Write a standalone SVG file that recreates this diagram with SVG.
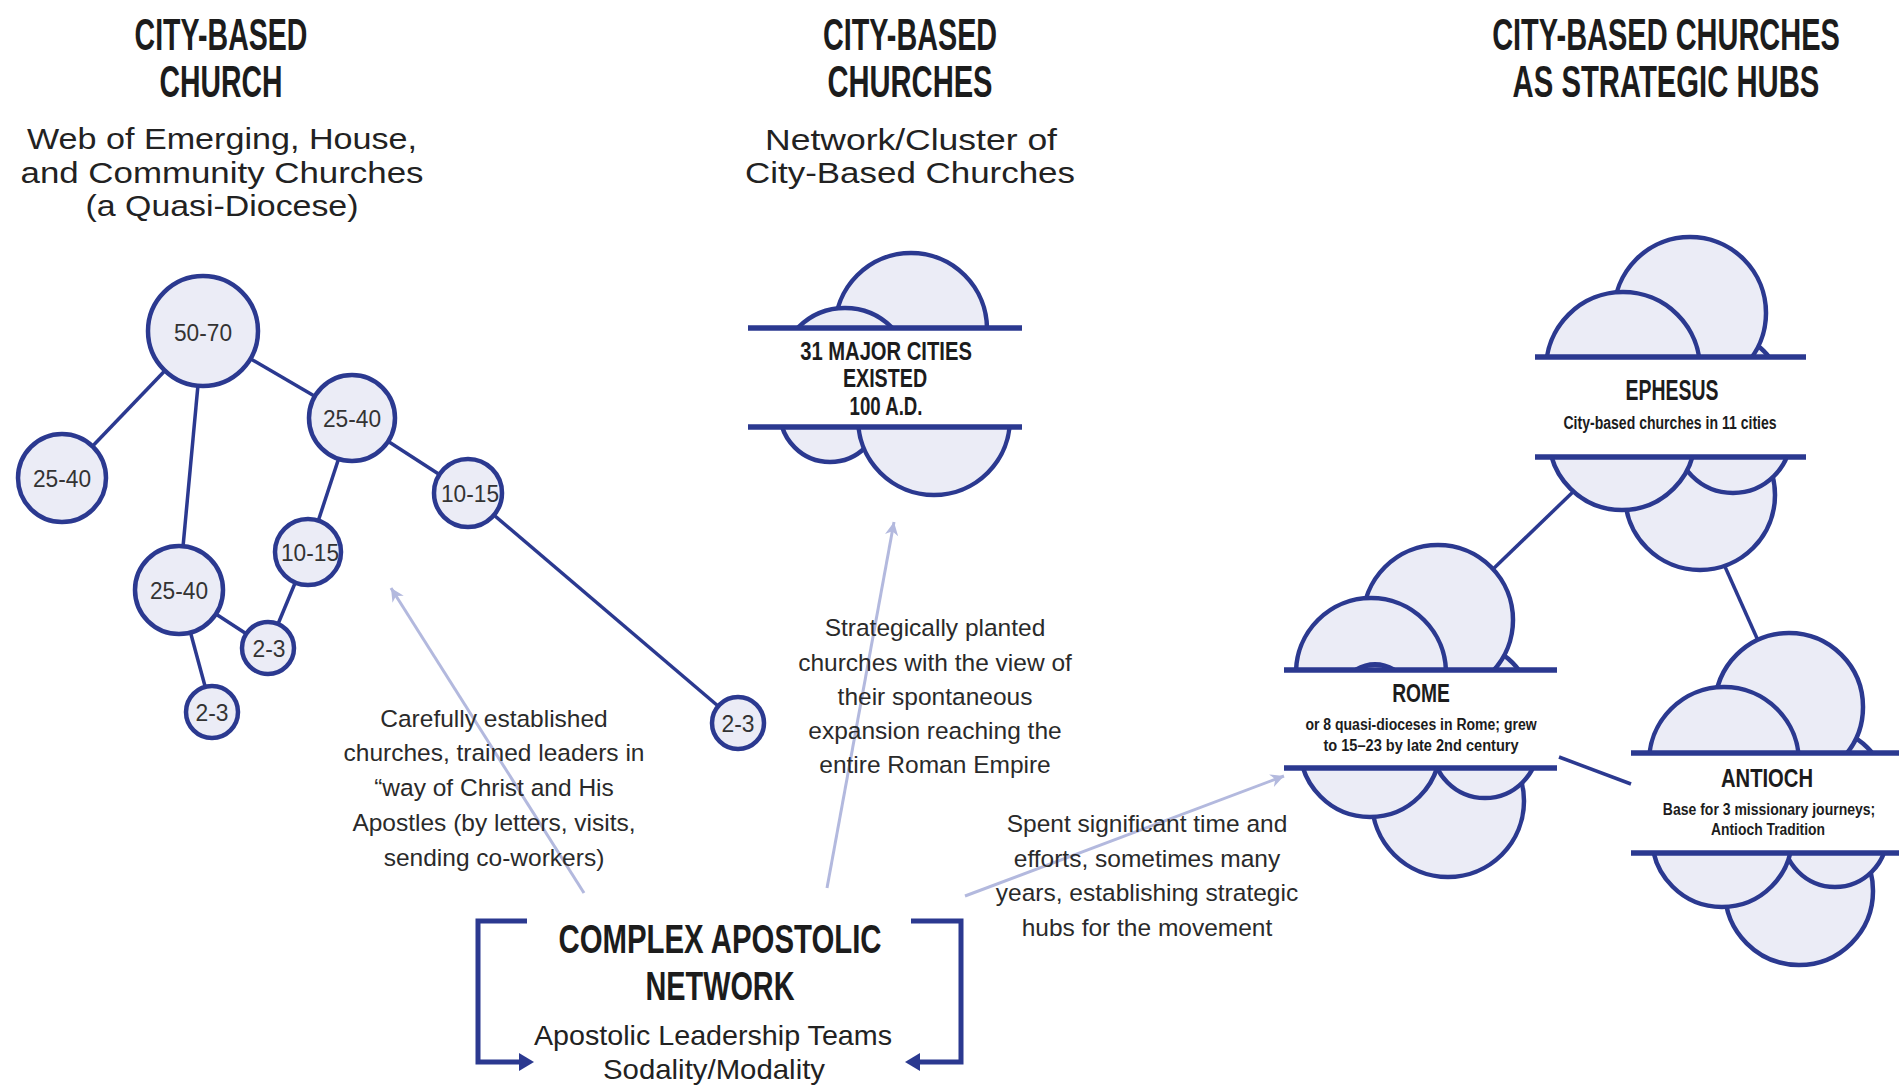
<svg xmlns="http://www.w3.org/2000/svg" width="1899" height="1085" viewBox="0 0 1899 1085">
<style>
.hd{font-family:"Liberation Sans",Arial,sans-serif;font-weight:bold;fill:#1c1c1c;text-anchor:middle}
.sub{font-family:"Liberation Sans",Arial,sans-serif;fill:#222;text-anchor:middle;font-size:30px}
.ann{font-family:"Liberation Sans",Arial,sans-serif;fill:#2a2a2a;text-anchor:middle;font-size:24.5px}
.nl{font-family:"Liberation Sans",Arial,sans-serif;fill:#333;text-anchor:middle;font-size:23px}
.cl{font-family:"Liberation Sans",Arial,sans-serif;font-weight:bold;fill:#1c1c1c;text-anchor:middle}
.nd{fill:#ebecf6;stroke:#2b3990;stroke-width:4.5}
.cc{fill:#ebecf6;stroke:#2b3990;stroke-width:4.5}
.edge{stroke:#2b3990;stroke-width:3.5;fill:none}
.band{stroke:#2b3990;stroke-width:5.5}
.arr{stroke:#b3b9de;stroke-width:3;fill:none}
.brk{stroke:#2b3990;stroke-width:5;fill:none}
</style>
<defs>
<marker id="ah" viewBox="0 0 12 12" refX="11" refY="6" markerWidth="16" markerHeight="16" markerUnits="userSpaceOnUse" orient="auto">
<path d="M1,1 L11,6 L1,11 L4,6 z" fill="#b3b9de"/>
</marker>
<clipPath id="mT"><rect x="700" y="200" width="360" height="128"/></clipPath>
<clipPath id="mB"><rect x="700" y="427" width="360" height="120"/></clipPath>
<clipPath id="eT"><rect x="1500" y="200" width="340" height="157"/></clipPath>
<clipPath id="eB"><rect x="1500" y="457" width="340" height="140"/></clipPath>
<clipPath id="rT"><rect x="1260" y="500" width="320" height="170"/></clipPath>
<clipPath id="rB"><rect x="1260" y="768" width="320" height="140"/></clipPath>
<clipPath id="aT"><rect x="1600" y="600" width="299" height="153"/></clipPath>
<clipPath id="aB"><rect x="1600" y="853" width="299" height="140"/></clipPath>
</defs>
<rect width="1899" height="1085" fill="#ffffff"/>

<g id="headings">
<text class="hd" transform="translate(221,50) scale(0.65,1)" font-size="44" textLength="266" lengthAdjust="spacingAndGlyphs">CITY-BASED</text>
<text class="hd" transform="translate(221,97) scale(0.65,1)" font-size="44" textLength="189" lengthAdjust="spacingAndGlyphs">CHURCH</text>
<text class="sub" x="222" y="149" textLength="390" lengthAdjust="spacingAndGlyphs">Web of Emerging, House,</text>
<text class="sub" x="222" y="183" textLength="403" lengthAdjust="spacingAndGlyphs">and Community Churches</text>
<text class="sub" x="222" y="216" textLength="273" lengthAdjust="spacingAndGlyphs">(a Quasi-Diocese)</text>

<text class="hd" transform="translate(910,50) scale(0.65,1)" font-size="44" textLength="268" lengthAdjust="spacingAndGlyphs">CITY-BASED</text>
<text class="hd" transform="translate(910,97) scale(0.65,1)" font-size="44" textLength="254" lengthAdjust="spacingAndGlyphs">CHURCHES</text>
<text class="sub" x="911" y="150" textLength="292" lengthAdjust="spacingAndGlyphs">Network/Cluster of</text>
<text class="sub" x="910" y="183" textLength="330" lengthAdjust="spacingAndGlyphs">City-Based Churches</text>

<text class="hd" transform="translate(1666,50) scale(0.65,1)" font-size="44" textLength="535" lengthAdjust="spacingAndGlyphs">CITY-BASED CHURCHES</text>
<text class="hd" transform="translate(1666,97) scale(0.65,1)" font-size="44" textLength="472" lengthAdjust="spacingAndGlyphs">AS STRATEGIC HUBS</text>
</g>

<g id="connectors">
<line class="edge" x1="203" y1="331" x2="62" y2="478"/>
<line class="edge" x1="203" y1="331" x2="179" y2="590"/>
<line class="edge" x1="203" y1="331" x2="352" y2="418"/>
<line class="edge" x1="352" y1="418" x2="308" y2="552"/>
<line class="edge" x1="352" y1="418" x2="468" y2="493"/>
<line class="edge" x1="468" y1="493" x2="738" y2="723"/>
<line class="edge" x1="308" y1="552" x2="268" y2="648"/>
<line class="edge" x1="179" y1="590" x2="268" y2="648"/>
<line class="edge" x1="179" y1="590" x2="212" y2="712"/>
<line class="edge" x1="1575" y1="490" x2="1490" y2="572"/>
<line class="edge" x1="1722" y1="560" x2="1760" y2="645"/>
<line class="edge" x1="1559" y1="757" x2="1631" y2="784"/>
<line class="arr" x1="584" y1="893" x2="391" y2="588" marker-end="url(#ah)"/>
<line class="arr" x1="827" y1="888" x2="894" y2="522" marker-end="url(#ah)"/>
<line class="arr" x1="965" y1="896" x2="1284" y2="776" marker-end="url(#ah)"/>
</g>

<g id="n-50-70"><circle class="nd" cx="203" cy="331" r="55"/><text class="nl" x="203" y="341" textLength="58" lengthAdjust="spacingAndGlyphs">50-70</text></g>
<g id="n-25-40-a"><circle class="nd" cx="352" cy="418" r="43"/><text class="nl" x="352" y="427" textLength="58" lengthAdjust="spacingAndGlyphs">25-40</text></g>
<g id="n-25-40-b"><circle class="nd" cx="62" cy="478" r="44"/><text class="nl" x="62" y="487" textLength="58" lengthAdjust="spacingAndGlyphs">25-40</text></g>
<g id="n-10-15-a"><circle class="nd" cx="468" cy="493" r="34"/><text class="nl" x="470" y="502" textLength="58" lengthAdjust="spacingAndGlyphs">10-15</text></g>
<g id="n-10-15-b"><circle class="nd" cx="308" cy="552" r="33"/><text class="nl" x="310" y="561" textLength="58" lengthAdjust="spacingAndGlyphs">10-15</text></g>
<g id="n-25-40-c"><circle class="nd" cx="179" cy="590" r="44"/><text class="nl" x="179" y="599" textLength="58" lengthAdjust="spacingAndGlyphs">25-40</text></g>
<g id="n-2-3-a"><circle class="nd" cx="268" cy="648" r="26"/><text class="nl" x="269" y="657" textLength="33" lengthAdjust="spacingAndGlyphs">2-3</text></g>
<g id="n-2-3-b"><circle class="nd" cx="212" cy="712" r="26"/><text class="nl" x="212" y="721" textLength="33" lengthAdjust="spacingAndGlyphs">2-3</text></g>
<g id="n-2-3-c"><circle class="nd" cx="738" cy="723" r="26"/><text class="nl" x="738" y="732" textLength="33" lengthAdjust="spacingAndGlyphs">2-3</text></g>

<g id="cluster-31">
<g clip-path="url(#mT)">
<circle class="cc" cx="911" cy="329" r="76"/>
<circle class="cc" cx="845" cy="374" r="66"/>
</g>
<g clip-path="url(#mB)">
<circle class="cc" cx="830" cy="412" r="50"/>
<circle class="cc" cx="934" cy="419" r="76"/>
</g>
<line class="band" x1="748" y1="328" x2="1022" y2="328"/>
<line class="band" x1="748" y1="427" x2="1022" y2="427"/>
<text class="cl" transform="translate(886,360) scale(0.81,1)" font-size="25" textLength="212" lengthAdjust="spacingAndGlyphs">31 MAJOR CITIES</text>
<text class="cl" transform="translate(885,387) scale(0.81,1)" font-size="25" textLength="104" lengthAdjust="spacingAndGlyphs">EXISTED</text>
<text class="cl" transform="translate(886,415) scale(0.81,1)" font-size="25" textLength="90" lengthAdjust="spacingAndGlyphs">100 A.D.</text>
</g>

<g id="ephesus">
<g clip-path="url(#eT)">
<circle class="cc" cx="1725" cy="390" r="55"/>
<circle class="cc" cx="1690" cy="313" r="76"/>
<circle class="cc" cx="1623" cy="369" r="77"/>
</g>
<g clip-path="url(#eB)">
<circle class="cc" cx="1700" cy="495" r="75"/>
<circle class="cc" cx="1733" cy="435" r="58"/>
<circle class="cc" cx="1622" cy="437" r="73"/>
</g>
<line class="band" x1="1535" y1="357" x2="1806" y2="357"/>
<line class="band" x1="1535" y1="457" x2="1806" y2="457"/>
<text class="cl" transform="translate(1672,400) scale(0.65,1)" font-size="30" textLength="143" lengthAdjust="spacingAndGlyphs">EPHESUS</text>
<text class="cl" transform="translate(1670,429) scale(0.82,1)" font-size="17.5" textLength="260" lengthAdjust="spacingAndGlyphs">City-based churches in 11 cities</text>
</g>

<g id="rome">
<g clip-path="url(#rT)">
<circle class="cc" cx="1470" cy="705" r="60"/>
<circle class="cc" cx="1438" cy="620" r="75"/>
<circle class="cc" cx="1371" cy="673" r="75"/>
<path d="M1356,670 Q1375,659 1394,670" stroke="#2b3990" stroke-width="5" fill="none"/>
</g>
<g clip-path="url(#rB)">
<circle class="cc" cx="1448" cy="801" r="76"/>
<circle class="cc" cx="1485" cy="745" r="53"/>
<circle class="cc" cx="1370" cy="747" r="70"/>
</g>
<line class="band" x1="1284" y1="670" x2="1557" y2="670"/>
<line class="band" x1="1284" y1="768" x2="1557" y2="768"/>
<text class="cl" transform="translate(1421,702) scale(0.74,1)" font-size="26" textLength="78" lengthAdjust="spacingAndGlyphs">ROME</text>
<text class="cl" transform="translate(1421,730) scale(0.82,1)" font-size="17" textLength="282" lengthAdjust="spacingAndGlyphs">or 8 quasi-dioceses in Rome; grew</text>
<text class="cl" transform="translate(1421,751) scale(0.82,1)" font-size="17" textLength="238" lengthAdjust="spacingAndGlyphs">to 15–23 by late 2nd century</text>
</g>

<g id="antioch">
<g clip-path="url(#aT)">
<circle class="cc" cx="1825" cy="790" r="60"/>
<circle class="cc" cx="1789" cy="707" r="74"/>
<circle class="cc" cx="1724" cy="762" r="75"/>
</g>
<g clip-path="url(#aB)">
<circle class="cc" cx="1799" cy="891" r="74"/>
<circle class="cc" cx="1835" cy="835" r="52"/>
<circle class="cc" cx="1722" cy="837" r="70"/>
</g>
<line class="band" x1="1631" y1="753" x2="1905" y2="753"/>
<line class="band" x1="1631" y1="853" x2="1905" y2="853"/>
<text class="cl" transform="translate(1767,787) scale(0.78,1)" font-size="26" textLength="118" lengthAdjust="spacingAndGlyphs">ANTIOCH</text>
<text class="cl" transform="translate(1769,815) scale(0.82,1)" font-size="17" textLength="259" lengthAdjust="spacingAndGlyphs">Base for 3 missionary journeys;</text>
<text class="cl" transform="translate(1768,835) scale(0.82,1)" font-size="17" textLength="139" lengthAdjust="spacingAndGlyphs">Antioch Tradition</text>
</g>

<g id="annotations">
<text class="ann" x="494" y="727">Carefully established</text>
<text class="ann" x="494" y="761">churches, trained leaders in</text>
<text class="ann" x="494" y="796">“way of Christ and His</text>
<text class="ann" x="494" y="831">Apostles (by letters, visits,</text>
<text class="ann" x="494" y="866">sending co-workers)</text>

<text class="ann" x="935" y="636">Strategically planted</text>
<text class="ann" x="935" y="671">churches with the view of</text>
<text class="ann" x="935" y="705">their spontaneous</text>
<text class="ann" x="935" y="739">expansion reaching the</text>
<text class="ann" x="935" y="773">entire Roman Empire</text>

<text class="ann" x="1147" y="832">Spent significant time and</text>
<text class="ann" x="1147" y="867">efforts, sometimes many</text>
<text class="ann" x="1147" y="901">years, establishing strategic</text>
<text class="ann" x="1147" y="936">hubs for the movement</text>
</g>

<g id="apostolic-network">
<path class="brk" d="M527,921 H478 V1062 H521"/>
<polygon points="534,1062 519,1053 519,1071" fill="#2b3990"/>
<path class="brk" d="M911,921 H961 V1062 H919"/>
<polygon points="905,1062 920,1053 920,1071" fill="#2b3990"/>
<text class="hd" transform="translate(720,953) scale(0.71,1)" font-size="41" textLength="455" lengthAdjust="spacingAndGlyphs">COMPLEX APOSTOLIC</text>
<text class="hd" transform="translate(720,1000) scale(0.71,1)" font-size="41" textLength="210" lengthAdjust="spacingAndGlyphs">NETWORK</text>
<text class="sub" x="713" y="1045" style="font-size:28px" textLength="358" lengthAdjust="spacingAndGlyphs">Apostolic Leadership Teams</text>
<text class="sub" x="714" y="1079" style="font-size:28px" textLength="222" lengthAdjust="spacingAndGlyphs">Sodality/Modality</text>
</g>
</svg>
